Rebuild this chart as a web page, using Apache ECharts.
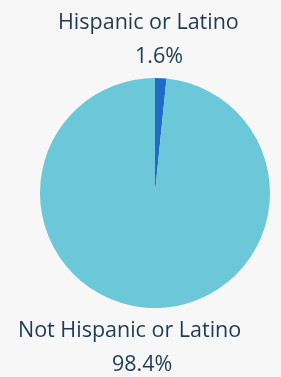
<!DOCTYPE html>
<html><head><meta charset="utf-8">
<script src="https://cdn.jsdelivr.net/npm/echarts@6/dist/echarts.min.js"></script>
<style>html,body{margin:0;padding:0;background:#f7f7f7;}#c{width:281px;height:377px;}</style>
</head><body><div id="c"></div>
<script>
const categories = ['Hispanic or Latino', 'Not Hispanic or Latino'];
const values = [1.6, 98.4];
const colors = ['#1f6cc4', '#6cc8d8'];

// [name left x, name y, percent left x, percent y]
const labelPos = [[58, 23, 135, 57], [18, 331, 112, 365]];
const txt = (x, y, t) => ({
  type: 'text', x: x, y: y,
  style: {text: t, fontFamily: 'Open Sans', fontSize: 21.5, fill: '#1e3a56', align: 'left', verticalAlign: 'middle', overflow: 'none'}
});
const graphics = [];
categories.forEach((c, i) => {
  graphics.push(txt(labelPos[i][0], labelPos[i][1], c));
  graphics.push(txt(labelPos[i][2], labelPos[i][3], values[i].toFixed(1) + '%'));
});

const chart = echarts.init(document.getElementById('c'), null, {renderer: 'canvas'});
chart.setOption({
  backgroundColor: '#f7f7f7',
  animation: false,
  graphic: graphics,
  series: [{
    type: 'pie',
    center: [155, 193],
    radius: [0, 115],
    startAngle: 90,
    clockwise: true,
    data: categories.map((c, i) => ({name: c, value: values[i], itemStyle: {color: colors[i]}})),
    label: {show: false},
    labelLine: {show: false}
  }]
});
</script></body></html>
